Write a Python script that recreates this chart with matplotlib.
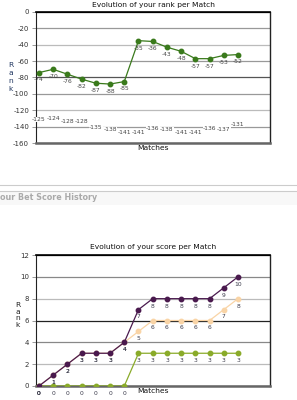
import matplotlib
matplotlib.use("Agg")
import matplotlib.pyplot as plt
from matplotlib.patches import Rectangle
from matplotlib.lines import Line2D

# ---- data ----
matches = list(range(15))
rank_values = [-74, -70, -76, -82, -87, -88, -85, -35, -36, -43, -48, -57, -57, -53, -52]
rank_hidden = [-125, -124, -128, -128, -135, -138, -141, -141, -136, -138, -141, -141, -136, -137, -131]
rank_ticks = [0, -20, -40, -60, -80, -100, -120, -140, -160]

score_purple = [0, 1, 2, 3, 3, 3, 4, 7, 8, 8, 8, 8, 8, 9, 10]
score_peach = [0, 1, 2, 3, 3, 3, 4, 5, 6, 6, 6, 6, 6, 7, 8]
score_green = [0, 0, 0, 0, 0, 0, 0, 3, 3, 3, 3, 3, 3, 3, 3]
score_ticks = [0, 2, 4, 6, 8, 10, 12]

W, H = 297, 400
fig = plt.figure(figsize=(W / 100, H / 100), dpi=100)
fig.patch.set_facecolor("white")
plt.rcParams['font.family'] = ['DejaVu Sans']

def px_axes(left, top, right, bottom):
    return fig.add_axes([left / W, 1 - bottom / H, (right - left) / W, (bottom - top) / H])

FS = 5.0
LFS = 4.3
OFF = -5.3

def style_axes(ax, ticks, grid_colors, ylim):
    ax.set_ylim(*ylim)
    ax.set_xlim(-0.21, 16.25)
    ax.set_yticks(ticks)
    ax.set_yticklabels([str(t) for t in ticks], fontsize=FS, color="#333333")
    ax.set_xticks([])
    ax.tick_params(axis="y", length=3, width=0.6, color="#888888", pad=2)
    for t, c in zip(ticks, grid_colors):
        ax.axhline(t, color=c, lw=0.9, zorder=1)
    ax.spines["top"].set_color("#000000")
    ax.spines["top"].set_linewidth(1.2)
    ax.spines["left"].set_color("#222222")
    ax.spines["left"].set_linewidth(0.8)
    ax.spines["right"].set_color("#222222")
    ax.spines["right"].set_linewidth(1.0)
    ax.spines["bottom"].set_color("#666666")
    ax.spines["bottom"].set_linewidth(1.8)

# ---- chart 1 ----
ax1 = px_axes(36, 12, 270, 143)
style_axes(ax1, rank_ticks,
           ["#000000", "#999999", "#bbbbbb", "#999999", "#555555", "#999999", "#bbbbbb", "#999999", "#666666"],
           (-160, 0))
ax1.plot(matches, rank_values, color="#3a7a1c", lw=0.9, marker="o", ms=3.2, zorder=4)
for x, v in zip(matches, rank_values):
    ax1.annotate(str(v), (x, v), xytext=(0, OFF), textcoords="offset points",
                 ha="center", va="center", fontsize=LFS, color="#444444", zorder=5)
for x, v in zip(matches, rank_hidden):
    ax1.annotate(str(v), (x, v), xytext=(0, -3.6), textcoords="offset points",
                 ha="center", va="center", fontsize=LFS, color="#444444", zorder=5,
                 bbox=dict(boxstyle="square,pad=0.05", fc="white", ec="none"))
fig.text(153 / W, 1 - 5 / H, "Evolution of your rank per Match", ha="center", va="center",
         fontsize=5.4, color="#111111")
fig.text(153 / W, 1 - 148 / H, "Matches", ha="center", va="center", fontsize=5.4, color="#111111")
fig.text(11 / W, 1 - 77 / H, "R\na\nn\nk", ha="center", va="center", fontsize=5.4,
         color="#1f3560", linespacing=1.45)

# ---- separator header ----
fig.add_artist(Rectangle((0, 1 - 205 / H), 1, 14 / H, transform=fig.transFigure,
                         facecolor="#f8f8f8", edgecolor="none"))
fig.add_artist(Line2D([0, 1], [1 - 185 / H, 1 - 185 / H], transform=fig.transFigure,
                      color="#cccccc", lw=0.8))
fig.add_artist(Line2D([0, 1], [1 - 191 / H, 1 - 191 / H], transform=fig.transFigure,
                      color="#cccccc", lw=0.8))
fig.text(0 / W, 1 - 198 / H, "our Bet Score History", ha="left", va="center",
         fontsize=5.8, fontweight="bold", color="#aaaaaa")

# ---- chart 2 ----
ax2 = px_axes(36, 255, 270, 386)
style_axes(ax2, score_ticks,
           ["#555555", "#bbbbbb", "#888888", "#222222", "#bbbbbb", "#888888", "#000000"],
           (0, 12))
ax2.plot(matches, score_peach, color="#f9d4a6", lw=0.9, marker="o", ms=3.2, zorder=3)
ax2.plot(matches, score_green, color="#8aab2a", lw=0.9, marker="o", ms=3.2, zorder=4)
ax2.plot(matches, score_purple, color="#4a1a4e", lw=0.9, marker="o", ms=3.2, zorder=5)
for series in (score_peach, score_green, score_purple):
    for x, v in zip(matches, series):
        ax2.annotate(str(v), (x, v), xytext=(0, OFF), textcoords="offset points",
                     ha="center", va="center", fontsize=LFS, color="#3a3a4a", zorder=6,
                     annotation_clip=False)
fig.text(153 / W, 1 - 247 / H, "Evolution of your score per Match", ha="center", va="center",
         fontsize=5.4, color="#111111")
fig.text(153 / W, 1 - 391 / H, "Matches", ha="center", va="center", fontsize=5.4, color="#111111")
fig.text(18 / W, 1 - 315 / H, "R\na\nn\nk", ha="center", va="center", fontsize=5.4,
         color="#222222", linespacing=1.1)

fig.savefig("out.png", dpi=100, facecolor="white")
